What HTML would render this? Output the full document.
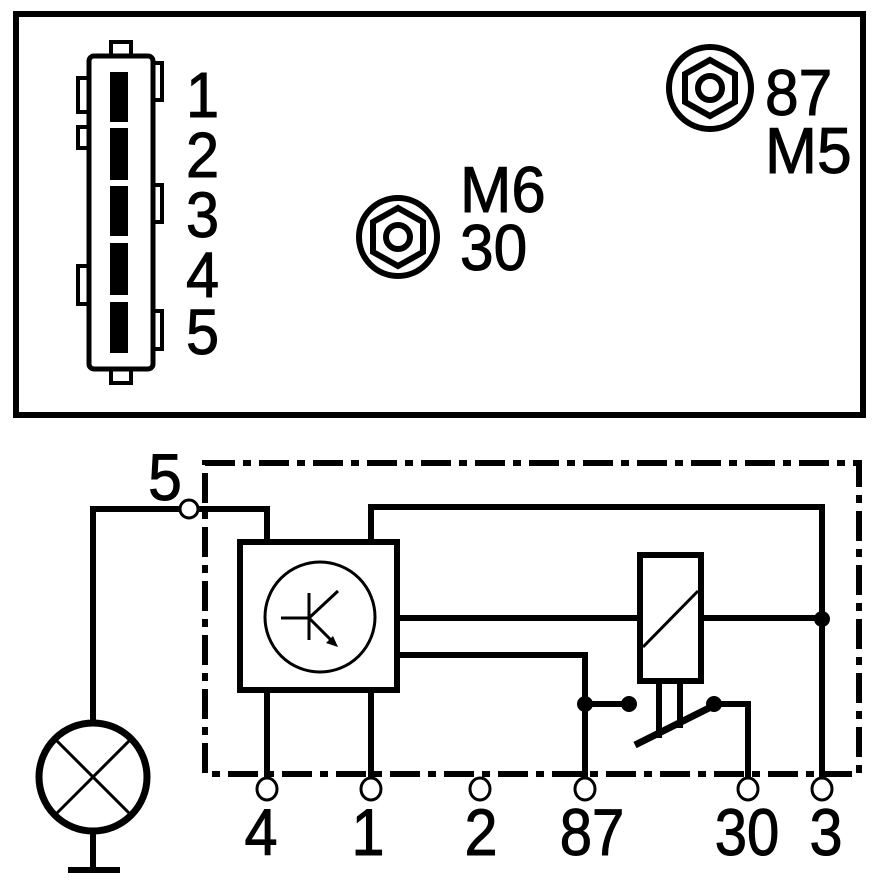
<!DOCTYPE html>
<html><head><meta charset="utf-8"><style>
html,body{margin:0;padding:0;background:#fff}
svg{display:block}
text{font-family:"Liberation Sans",sans-serif;fill:#000;stroke:#000;stroke-width:1}
</style></head><body>
<svg width="879" height="884" viewBox="0 0 879 884" xmlns="http://www.w3.org/2000/svg">
<rect width="879" height="884" fill="#fff"/>
<rect x="16" y="14" width="847" height="401" fill="none" stroke="#000" stroke-width="6"/>
<g stroke="#000" stroke-width="4" fill="#fff">
<rect x="111" y="42" width="20" height="15"/>
<rect x="111" y="368" width="20" height="15"/>
<rect x="152" y="63" width="10" height="37"/>
<rect x="152" y="185" width="10" height="37"/>
<rect x="152" y="311" width="10" height="38"/>
<rect x="78" y="78" width="11" height="34"/>
<rect x="78" y="127" width="11" height="21"/>
<rect x="78" y="266" width="11" height="38"/>
<rect x="89" y="56" width="64" height="313" rx="5" stroke-width="5"/>
</g>
<g fill="#000">
<rect x="110" y="72" width="18" height="50"/>
<rect x="110" y="128" width="18" height="52"/>
<rect x="110" y="186" width="18" height="50"/>
<rect x="110" y="243" width="18" height="52"/>
<rect x="110" y="302" width="18" height="51"/>
</g>
<g font-size="64">
<text x="186" y="117" transform="translate(186 0) scale(0.93 1) translate(-186 0)">1</text>
<text x="186" y="177" transform="translate(186 0) scale(0.93 1) translate(-186 0)">2</text>
<text x="186" y="237" transform="translate(186 0) scale(0.93 1) translate(-186 0)">3</text>
<text x="186" y="297" transform="translate(186 0) scale(0.93 1) translate(-186 0)">4</text>
<text x="186" y="354" transform="translate(186 0) scale(0.93 1) translate(-186 0)">5</text>
</g>
<g fill="none" stroke="#000">
<circle cx="398" cy="237" r="39" stroke-width="6"/>
<polygon points="398,208 423,222 423,252 398,266 373,252 373,222" stroke-width="6"/>
<circle cx="398" cy="237" r="12" stroke-width="6"/>
<circle cx="710" cy="88" r="41" stroke-width="6"/>
<polygon points="710,60 735,74 735,102 710,116 685,102 685,74" stroke-width="6"/>
<circle cx="710" cy="88" r="12" stroke-width="6"/>
</g>
<g font-size="65">
<text x="460" y="212" transform="translate(460 0) scale(0.95 1) translate(-460 0)">M6</text>
<text x="460" y="270" transform="translate(460 0) scale(0.93 1) translate(-460 0)">30</text>
<text x="765" y="115" transform="translate(765 0) scale(0.93 1) translate(-765 0)">87</text>
<text x="765" y="173" transform="translate(765 0) scale(0.96 1) translate(-765 0)">M5</text>
</g>
<rect x="205" y="463" width="654" height="311" fill="none" stroke="#000" stroke-width="6" stroke-dasharray="30 8 8 8"/>
<g fill="none" stroke="#000" stroke-width="6">
<polyline points="180,509 93,509 93,725"/>
<polyline points="198,509 267,509 267,542"/>
<polyline points="371,542 371,507 822,507 822,779"/>
<line x1="267" y1="690" x2="267" y2="779"/>
<line x1="371" y1="690" x2="371" y2="779"/>
<line x1="398" y1="618" x2="640" y2="618"/>
<polyline points="398,655 585,655 585,779"/>
<line x1="702" y1="618" x2="822" y2="618"/>
<line x1="585" y1="704" x2="629" y2="704"/>
<polyline points="714,704 748,704 748,779"/>
<line x1="93" y1="830" x2="93" y2="870"/>
<line x1="68" y1="870" x2="120" y2="870"/>
<line x1="659" y1="682" x2="659" y2="738"/>
<line x1="680" y1="682" x2="680" y2="728"/>
</g>
<line x1="635" y1="745" x2="713" y2="706" stroke="#000" stroke-width="7"/>
<rect x="240" y="542" width="157" height="148" fill="none" stroke="#000" stroke-width="6"/>
<circle cx="320" cy="617" r="55" fill="none" stroke="#000" stroke-width="3"/>
<g stroke="#000" stroke-width="3" fill="none">
<line x1="281" y1="618" x2="309" y2="618"/>
<line x1="309" y1="593" x2="309" y2="640"/>
<line x1="309" y1="618" x2="338" y2="591"/>
<line x1="309" y1="618" x2="333" y2="642"/>
</g>
<polygon points="338,647 326,643 333,636" fill="#000"/>
<rect x="640" y="555" width="61" height="126" fill="#fff" stroke="#000" stroke-width="6"/>
<line x1="643" y1="647" x2="698" y2="591" stroke="#000" stroke-width="3"/>
<g fill="#000">
<circle cx="822" cy="619" r="8"/>
<circle cx="585" cy="704" r="8"/>
<circle cx="629" cy="704" r="8"/>
<circle cx="714" cy="704" r="8"/>
</g>
<circle cx="93" cy="777" r="54" fill="none" stroke="#000" stroke-width="7"/>
<g stroke="#000" stroke-width="3">
<line x1="55" y1="739" x2="131" y2="815"/>
<line x1="131" y1="739" x2="55" y2="815"/>
</g>
<g fill="#fff" stroke="#000" stroke-width="3">
<circle cx="189" cy="509" r="9"/>
<ellipse cx="267" cy="789" rx="10" ry="11"/>
<ellipse cx="371" cy="789" rx="10" ry="11"/>
<ellipse cx="480" cy="789" rx="10" ry="11"/>
<ellipse cx="585" cy="789" rx="10" ry="11"/>
<ellipse cx="748" cy="789" rx="10" ry="11"/>
<ellipse cx="822" cy="789" rx="10" ry="11"/>
</g>
<g font-size="66" text-anchor="middle">
<text x="165" y="500" transform="translate(165 0) scale(0.92 1) translate(-165 0)">5</text>
<text x="261" y="855" transform="translate(261 0) scale(0.9 1) translate(-261 0)">4</text>
<text x="368" y="855" transform="translate(368 0) scale(0.9 1) translate(-368 0)">1</text>
<text x="481" y="855" transform="translate(481 0) scale(0.9 1) translate(-481 0)">2</text>
<text x="592" y="855" transform="translate(592 0) scale(0.88 1) translate(-592 0)">87</text>
<text x="747" y="855" transform="translate(747 0) scale(0.88 1) translate(-747 0)">30</text>
<text x="826" y="855" transform="translate(826 0) scale(0.9 1) translate(-826 0)">3</text>
</g>
</svg>
</body></html>
